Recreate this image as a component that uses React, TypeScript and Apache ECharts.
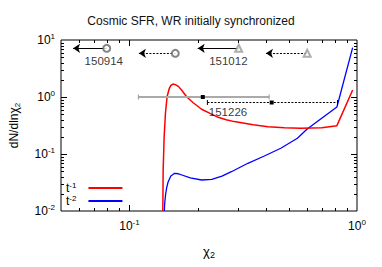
import React, { useEffect, useRef } from 'react';
import * as echarts from 'echarts';

// ---- data ----
const X_MIN = 0.05;
const X_MAX = 1;
const Y_MIN = 0.01;
const Y_MAX = 10;

const redX = [0.1401, 0.1406, 0.142, 0.1439, 0.1463, 0.1497, 0.152, 0.1553, 0.159, 0.1645, 0.171, 0.1787, 0.19, 0.2075, 0.226, 0.2455, 0.266, 0.289, 0.32, 0.35, 0.406, 0.48, 0.565, 0.7, 0.816, 0.957];
const redY = [0.01, 0.052, 0.199, 0.518, 1.01, 1.42, 1.6, 1.69, 1.65, 1.52, 1.26, 1.0, 0.8, 0.61, 0.515, 0.44, 0.4, 0.37, 0.345, 0.325, 0.3, 0.288, 0.282, 0.29, 0.314, 1.33];

const blueX = [0.1423, 0.1428, 0.144, 0.1458, 0.1478, 0.152, 0.158, 0.164, 0.17, 0.185, 0.2075, 0.23, 0.255, 0.2805, 0.3315, 0.3915, 0.4624, 0.547, 0.604, 0.816, 0.957];
const blueY = [0.01, 0.0135, 0.0191, 0.026, 0.0323, 0.0411, 0.0458, 0.045, 0.0428, 0.038, 0.035, 0.036, 0.041, 0.0489, 0.0687, 0.0923, 0.126, 0.1886, 0.275, 0.668, 7.33];

// upper-limit arrows: [tip x, marker x, y]
const arrowSolid = [[0.0565, 0.0794, 7.15], [0.1995, 0.302, 7.15]];
const arrowDashed = [[0.11, 0.159, 5.84], [0.398, 0.604, 5.84]];

// error bars: [center, low, high, y, dashed]
const errorBars = [[0.21, 0.1094, 0.411, 1.01, 0], [0.4217, 0.22, 0.821, 0.807, 1]];

const eventNames = ['150914', '151012', '151226'];
const eventX = [0.0771, 0.272, 0.271];
const eventY = [4.33, 4.33, 0.54];

const xMinorTicks = [0.06, 0.07, 0.08, 0.09, 0.2, 0.3, 0.4, 0.5, 0.6, 0.7, 0.8, 0.9];
const xMajorTicks = [0.1];
const yMinorTicks = [0.02, 0.03, 0.04, 0.05, 0.06, 0.07, 0.08, 0.09, 0.2, 0.3, 0.4, 0.5, 0.6, 0.7, 0.8, 0.9, 2, 3, 4, 5, 6, 7, 8, 9];
const yMajorTicks = [0.1, 1];

const FONT = "'Liberation Sans', Arial, Helvetica, sans-serif";

const powRich = {
  b: { fontSize: 12, fontFamily: FONT, color: '#000' },
  s: { fontSize: 8, fontFamily: FONT, color: '#000', padding: [0, 0, 8, 0] },
};

function powLabel(v: number) {
  const e = Math.log10(v);
  const r = Math.round(e);
  if (Math.abs(e - r) > 1e-6) return '';
  return `{b|10}{s|${r}}`;
}

export default function App() {
  const ref = useRef<HTMLDivElement>(null);
  useEffect(() => {
    const chart = echarts.init(ref.current!, null, { renderer: 'svg' });

    const tickData = [
      ...xMinorTicks.map((v) => [v, Y_MIN, 0]),
      ...xMajorTicks.map((v) => [v, Y_MIN, 1]),
      ...yMinorTicks.map((v) => [X_MIN, v, 2]),
      ...yMajorTicks.map((v) => [X_MIN, v, 3]),
    ];

    const arrowLines = (arr: number[][]) => arr.map((a) => ({ coords: [[a[0], a[2]], [a[1], a[2]]] }));
    const markerData = [...arrowSolid, ...arrowDashed].map((a, i) => ({
      value: [a[1], a[2]],
      symbol: i % 2 === 0 ? 'emptyCircle' : 'emptyTriangle',
      itemStyle: { color: i % 2 === 0 ? '#666' : '#999', borderColor: i % 2 === 0 ? '#666' : '#999' },
    }));

    chart.setOption({
      animation: false,
      backgroundColor: '#fff',
      title: {
        text: 'Cosmic SFR, WR initially synchronized',
        left: 'center',
        top: 10,
        textStyle: { fontSize: 12, fontWeight: 'normal', fontFamily: FONT, color: '#111' },
      },
      grid: { left: 57, right: 25, top: 40, bottom: 56, show: true, borderColor: '#000', borderWidth: 1, backgroundColor: 'transparent' },
      legend: {
        orient: 'vertical',
        left: 61,
        top: 176,
        align: 'right',
        itemWidth: 34,
        itemHeight: 14,
        itemGap: 0,
        data: ['t-1', 't-2'],
        itemStyle: { opacity: 0 },
        formatter: (n: string) => `{t|t}{s|${n.slice(1)}}{g|}`,
        textStyle: {
          rich: {
            t: { fontSize: 12, fontFamily: FONT, color: '#000' },
            s: { fontSize: 8, fontFamily: FONT, color: '#000', padding: [0, 0, 6, 0] },
            g: { width: 7 },
          },
        },
      },
      xAxis: {
        type: 'log',
        logBase: 10,
        min: X_MIN,
        max: X_MAX,
        name: '{c|χ}{u|2}',
        nameLocation: 'middle',
        nameGap: 33,
        nameTextStyle: {
          rich: {
            c: { fontSize: 13, fontFamily: FONT, color: '#000' },
            u: { fontSize: 9, fontFamily: FONT, color: '#000', padding: [6, 0, 0, 0] },
          },
        },
        axisLine: { show: false },
        axisTick: { show: false },
        splitLine: { show: false },
        axisLabel: { formatter: powLabel, rich: powRich, margin: 7 },
      },
      yAxis: {
        type: 'log',
        logBase: 10,
        min: Y_MIN,
        max: Y_MAX,
        name: '{n|dN/dlnχ}{u|2}',
        nameLocation: 'middle',
        nameGap: 40,
        nameTextStyle: {
          rich: {
            n: { fontSize: 12, fontFamily: FONT, color: '#000' },
            u: { fontSize: 8, fontFamily: FONT, color: '#000', padding: [6, 0, 0, 0] },
          },
        },
        axisLine: { show: false },
        axisTick: { show: false },
        splitLine: { show: false },
        axisLabel: { formatter: powLabel, rich: powRich, margin: 6 },
      },
      series: [
        {
          type: 'custom',
          name: 'ticks',
          silent: true,
          dimensions: ['x', 'y', 'k'],
          encode: { x: 0, y: 1 },
          data: tickData,
          renderItem: (params: any, api: any) => {
            const cs = params.coordSys;
            const k = api.value(2);
            const p = api.coord([api.value(0), api.value(1)]);
            const st = { stroke: '#000', lineWidth: 1 };
            if (k < 2) {
              const len = k === 1 ? 6 : 3;
              const x = Math.round(p[0]) + 0.5;
              return {
                type: 'group',
                children: [
                  { type: 'line', shape: { x1: x, y1: cs.y + cs.height, x2: x, y2: cs.y + cs.height - len }, style: st },
                  { type: 'line', shape: { x1: x, y1: cs.y, x2: x, y2: cs.y + len }, style: st },
                ],
              };
            }
            const len = k === 3 ? 6 : 3;
            const y = Math.round(p[1]) + 0.5;
            return {
              type: 'group',
              children: [
                { type: 'line', shape: { x1: cs.x, y1: y, x2: cs.x + len, y2: y }, style: st },
                { type: 'line', shape: { x1: cs.x + cs.width, y1: y, x2: cs.x + cs.width - len, y2: y }, style: st },
              ],
            };
          },
          z: 5,
        },
        {
          type: 'line',
          name: 't-2',
          data: blueX.map((x, i) => [x, blueY[i]]),
          symbol: 'none',
          smooth: false,
          lineStyle: { color: '#0000ff', width: 1.3 },
          itemStyle: { color: '#0000ff' },
          z: 3,
        },
        {
          type: 'line',
          name: 't-1',
          data: redX.map((x, i) => [x, redY[i]]),
          symbol: 'none',
          smooth: false,
          lineStyle: { color: '#ff0000', width: 1.5 },
          itemStyle: { color: '#ff0000' },
          z: 3,
        },
        {
          type: 'custom',
          name: 'errorbars',
          silent: true,
          dimensions: ['xc', 'xlo', 'xhi', 'y', 'd'],
          encode: { x: [0, 1, 2], y: 3 },
          data: errorBars,
          renderItem: (params: any, api: any) => {
            const y = api.value(3);
            const c = api.coord([api.value(0), y]);
            const lo = api.coord([api.value(1), y]);
            const hi = api.coord([api.value(2), y]);
            const dashed = api.value(4) === 1;
            const yy = Math.round(c[1]) + (dashed ? 0.5 : 0);
            const st = dashed
              ? { stroke: '#000', lineWidth: 1, lineDash: [2, 1.5] }
              : { stroke: '#aaa', lineWidth: 2 };
            const cap = { stroke: dashed ? '#000' : '#999', lineWidth: 1 };
            return {
              type: 'group',
              children: [
                { type: 'line', shape: { x1: lo[0], y1: yy, x2: hi[0], y2: yy }, style: st },
                { type: 'line', shape: { x1: lo[0], y1: yy - 2.5, x2: lo[0], y2: yy + 2.5 }, style: cap },
                { type: 'line', shape: { x1: hi[0], y1: yy - 2.5, x2: hi[0], y2: yy + 2.5 }, style: cap },
                { type: 'rect', shape: { x: c[0] - 2, y: yy - 2, width: 4, height: 4 }, style: { fill: '#000' } },
              ],
            };
          },
          z: 4,
        },
        {
          type: 'lines',
          name: 'limits-solid',
          coordinateSystem: 'cartesian2d',
          silent: true,
          data: arrowLines(arrowSolid),
          symbol: ['arrow', 'none'],
          symbolSize: [7, 0],
          lineStyle: { color: '#000', width: 1, type: 'solid', opacity: 1 },
          z: 4,
        },
        {
          type: 'lines',
          name: 'limits-dashed',
          coordinateSystem: 'cartesian2d',
          silent: true,
          data: arrowLines(arrowDashed),
          symbol: ['arrow', 'none'],
          symbolSize: [7, 0],
          lineStyle: { color: '#000', width: 1, type: [2, 1.5], opacity: 1 },
          z: 4,
        },
        {
          type: 'scatter',
          name: 'limit-markers',
          silent: true,
          data: markerData,
          symbolSize: 7,
          itemStyle: { borderWidth: 1 },
          z: 5,
        },
        {
          type: 'scatter',
          name: 'event-labels',
          silent: true,
          symbolSize: 0,
          data: eventNames.map((n, i) => ({ name: n, value: [eventX[i], eventY[i]] })),
          label: {
            show: true,
            position: 'inside',
            formatter: '{b}',
            fontSize: 11.5,
            fontFamily: FONT,
            color: '#000',
          },
          z: 6,
        },
      ],
    });
    return () => chart.dispose();
  }, []);
  return <div ref={ref} style={{ position: 'fixed', left: 0, top: 0, width: 382, height: 267 }} />;
}
